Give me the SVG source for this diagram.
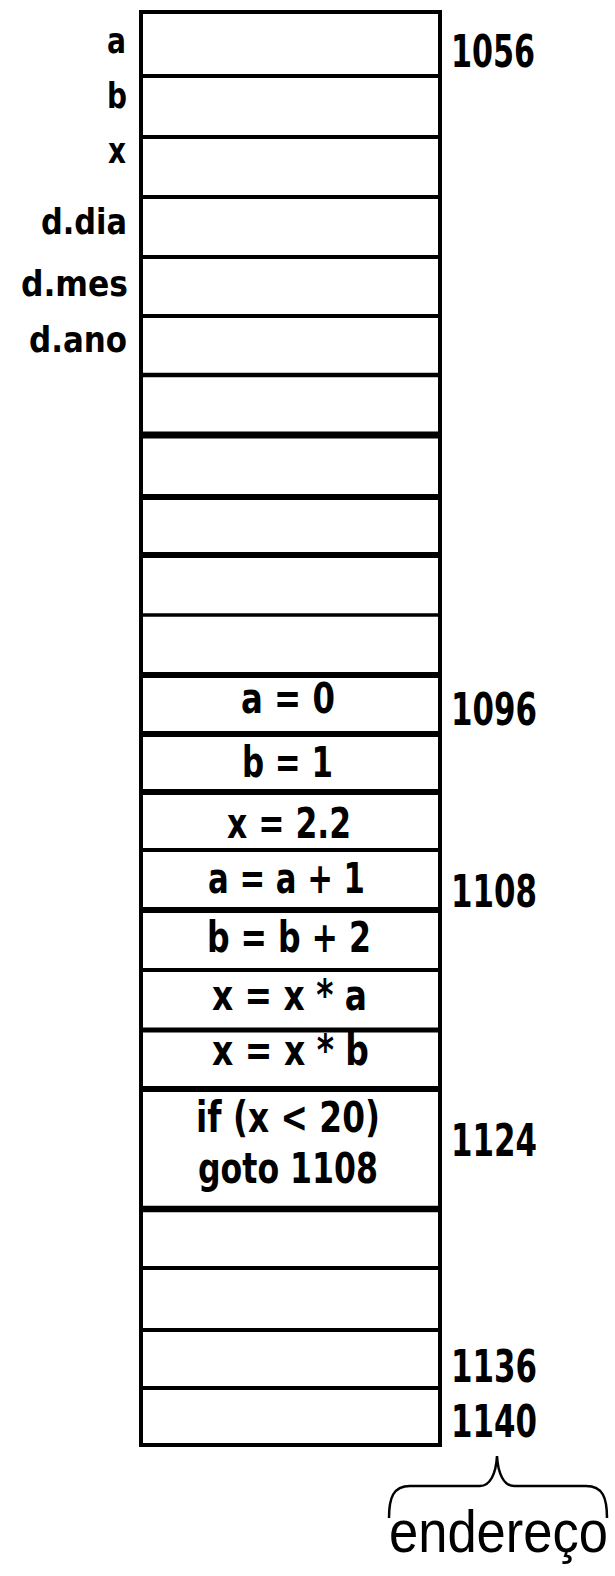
<svg xmlns="http://www.w3.org/2000/svg" width="615" height="1576" viewBox="0 0 615 1576">
<style>
.lbl{font-family:"DejaVu Sans Condensed","DejaVu Sans",sans-serif;font-weight:bold;font-size:36px;fill:#000}
.cel{font-family:"DejaVu Sans Condensed","DejaVu Sans",sans-serif;font-weight:bold;font-size:43px;fill:#000}
.adr{font-family:"DejaVu Sans Condensed","DejaVu Sans",sans-serif;font-weight:bold;font-size:44px;fill:#000}
.end{font-family:"Liberation Sans",Arial,sans-serif;font-size:60px;fill:#000}
.ln{stroke:#000;fill:none}
</style>
<rect width="615" height="1576" fill="#fff"/>
<g id="labels">
<text class="lbl" x="107" y="53" textLength="19" lengthAdjust="spacingAndGlyphs">a</text>
<text class="lbl" x="107" y="108" textLength="20" lengthAdjust="spacingAndGlyphs">b</text>
<text class="lbl" x="108" y="163" textLength="18" lengthAdjust="spacingAndGlyphs">x</text>
<text class="lbl" x="41" y="234" textLength="86" lengthAdjust="spacingAndGlyphs">d.dia</text>
<text class="lbl" x="21" y="296" textLength="107" lengthAdjust="spacingAndGlyphs">d.mes</text>
<text class="lbl" x="29" y="352" textLength="98" lengthAdjust="spacingAndGlyphs">d.ano</text>
</g>
<g id="cells">
<g id="cell-1096"><text class="cel" x="241" y="713" textLength="94" lengthAdjust="spacingAndGlyphs">a = 0</text></g>
<g id="cell-1100"><text class="cel" x="242" y="777" textLength="91" lengthAdjust="spacingAndGlyphs">b = 1</text></g>
<g id="cell-1104"><text class="cel" x="227" y="838" textLength="124" lengthAdjust="spacingAndGlyphs">x = 2.2</text></g>
<g id="cell-1108"><text class="cel" x="208" y="893" textLength="157" lengthAdjust="spacingAndGlyphs">a = a + 1</text></g>
<g id="cell-1112"><text class="cel" x="207" y="952" textLength="164" lengthAdjust="spacingAndGlyphs">b = b + 2</text></g>
<g id="cell-1116"><text class="cel" x="212" y="1010" textLength="155" lengthAdjust="spacingAndGlyphs">x = x * a</text></g>
<g id="cell-1120"><text class="cel" x="212" y="1065" textLength="157" lengthAdjust="spacingAndGlyphs">x = x * b</text></g>
<g id="cell-1124"><text class="cel" x="196" y="1132" textLength="184" lengthAdjust="spacingAndGlyphs">if (x &lt; 20)</text><text class="cel" x="198" y="1183" textLength="180" lengthAdjust="spacingAndGlyphs">goto 1108</text></g>
</g>
<g id="grid">
<line class="ln" x1="141" y1="10" x2="141" y2="1447" stroke-width="4"/>
<line class="ln" x1="440" y1="10" x2="440" y2="1447" stroke-width="4"/>
<line class="ln" x1="139" y1="12" x2="442" y2="12" stroke-width="4"/>
<line class="ln" x1="139" y1="76" x2="442" y2="76" stroke-width="4"/>
<line class="ln" x1="139" y1="137" x2="442" y2="137" stroke-width="4"/>
<line class="ln" x1="139" y1="197" x2="442" y2="197" stroke-width="4"/>
<line class="ln" x1="139" y1="257" x2="442" y2="257" stroke-width="4"/>
<line class="ln" x1="139" y1="316" x2="442" y2="316" stroke-width="4"/>
<line class="ln" x1="139" y1="375" x2="442" y2="375" stroke-width="4.5"/>
<line class="ln" x1="139" y1="435" x2="442" y2="435" stroke-width="7"/>
<line class="ln" x1="139" y1="497" x2="442" y2="497" stroke-width="6"/>
<line class="ln" x1="139" y1="555" x2="442" y2="555" stroke-width="6"/>
<line class="ln" x1="139" y1="615" x2="442" y2="615" stroke-width="3.5"/>
<line class="ln" x1="139" y1="675" x2="442" y2="675" stroke-width="6"/>
<line class="ln" x1="139" y1="734" x2="442" y2="734" stroke-width="6"/>
<line class="ln" x1="139" y1="792" x2="442" y2="792" stroke-width="6"/>
<line class="ln" x1="139" y1="850" x2="442" y2="850" stroke-width="4"/>
<line class="ln" x1="139" y1="910" x2="442" y2="910" stroke-width="6"/>
<line class="ln" x1="139" y1="970" x2="442" y2="970" stroke-width="4"/>
<line class="ln" x1="139" y1="1030" x2="442" y2="1030" stroke-width="5"/>
<line class="ln" x1="139" y1="1089" x2="442" y2="1089" stroke-width="6"/>
<line class="ln" x1="139" y1="1209" x2="442" y2="1209" stroke-width="6.5"/>
<line class="ln" x1="139" y1="1268" x2="442" y2="1268" stroke-width="4"/>
<line class="ln" x1="139" y1="1330" x2="442" y2="1330" stroke-width="4"/>
<line class="ln" x1="139" y1="1388" x2="442" y2="1388" stroke-width="4"/>
<line class="ln" x1="139" y1="1445" x2="442" y2="1445" stroke-width="4"/>
</g>
<g id="addresses">
<text class="adr" x="451" y="67" textLength="84" lengthAdjust="spacingAndGlyphs">1056</text>
<text class="adr" x="451" y="725" textLength="86" lengthAdjust="spacingAndGlyphs">1096</text>
<text class="adr" x="451" y="907" textLength="86" lengthAdjust="spacingAndGlyphs">1108</text>
<text class="adr" x="451" y="1156" textLength="86" lengthAdjust="spacingAndGlyphs">1124</text>
<text class="adr" x="451" y="1382" textLength="86" lengthAdjust="spacingAndGlyphs">1136</text>
<text class="adr" x="451" y="1437" textLength="86" lengthAdjust="spacingAndGlyphs">1140</text>
</g>
<g id="brace">
<path class="ln" stroke-width="2.5" d="M 389 1518 C 389 1498, 393 1486, 410 1486 L 480 1486 C 490 1486, 496 1474, 497 1456 C 498 1474, 504 1486, 514 1486 L 586 1486 C 603 1486, 607 1498, 607 1518"/>
<text class="end" x="389" y="1552" textLength="219" lengthAdjust="spacingAndGlyphs">endereço</text>
</g>
</svg>
